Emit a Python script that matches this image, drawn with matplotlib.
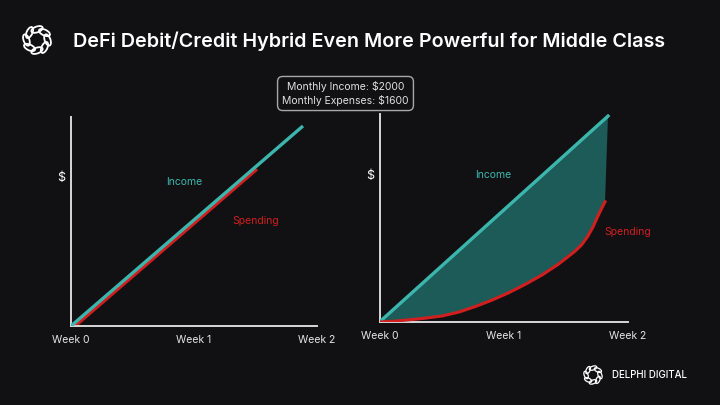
import numpy as np
import matplotlib.pyplot as plt
from matplotlib.patches import Ellipse

BG = "#111113"
TEAL = "#3cb6ad"
FILL = "#1c5b57"
RED = "#d11f1f"
AXIS = "#d8d8d8"

plt.rcParams["font.family"] = ["Inter", "DejaVu Sans"]

# data (x in weeks, y in arbitrary $ units 0..1000)
week_ticks = [0, 1, 2]
week_labels = ["Week 0", "Week 1", "Week 2"]

left_income_x = [0.0, 1.886]
left_income_y = [0, 957]
left_spend_x = [0.033, 1.512]
left_spend_y = [0, 751]

right_income_x = [0.0, 1.839]
right_income_y = [0, 990]
right_spend_x = [0.0, 0.12, 0.229, 0.36, 0.503, 0.64, 0.769, 0.90, 1.034, 1.17,
                 1.308, 1.44, 1.569, 1.625, 1.674, 1.717, 1.755, 1.787, 1.815]
right_spend_y = [0, 4, 10, 18, 29, 48, 74, 104, 139, 180,
                 226, 278, 338, 370, 410, 455, 506, 545, 578]

W, H = 720, 405
fig = plt.figure(figsize=(7.2, 4.05), dpi=100, facecolor=BG)


def px_axes(x0, y_top, x1, y_bot):
    return fig.add_axes([x0 / W, 1 - y_bot / H, (x1 - x0) / W, (y_bot - y_top) / H])


def style(ax):
    ax.set_facecolor("none")
    for s in ["top", "right"]:
        ax.spines[s].set_visible(False)
    for s in ["left", "bottom"]:
        ax.spines[s].set_color(AXIS)
        ax.spines[s].set_linewidth(1.4)
    ax.set_xlim(0, 2)
    ax.set_ylim(0, 1000)
    ax.set_yticks([])
    ax.set_xticks(week_ticks)
    ax.set_xticklabels(week_labels, color="#e6e6e6", fontsize=7.5)
    ax.tick_params(axis="x", length=0, pad=6.5)


def draw_logo(cx, cy, r, lw):
    la = px_axes(cx - r, cy - r, cx + r, cy + r)
    la.set_xlim(-1, 1)
    la.set_ylim(-1, 1)
    la.axis("off")
    for k in range(8):
        a = np.pi / 2 + k * np.pi / 4
        la.add_patch(Ellipse((0.66 * np.cos(a), 0.66 * np.sin(a)), 0.74, 0.36,
                             angle=np.degrees(a) + 90 + 20, fill=False,
                             edgecolor="white", linewidth=lw))


# left panel
ax1 = px_axes(71, 117, 317, 326)
style(ax1)
ax1.plot(left_income_x, left_income_y, color=TEAL, lw=2.4, solid_capstyle="butt", zorder=3)
ax1.plot(left_spend_x, left_spend_y, color=RED, lw=2.4, solid_capstyle="butt", zorder=2)
ax1.text(-0.08, 708, "$", color="white", fontsize=9, ha="center", va="center")
ax1.text(0.919, 689, "Income", color=TEAL, fontsize=7.5, ha="center", va="center")
ax1.text(1.504, 504, "Spending", color=RED, fontsize=7.5, ha="center", va="center")

# right panel
ax2 = px_axes(379.5, 114, 628, 322)
style(ax2)
poly_x = right_income_x + right_spend_x[::-1]
poly_y = right_income_y + right_spend_y[::-1]
ax2.fill(poly_x, poly_y, color=FILL, lw=0, zorder=1)
ax2.plot(right_income_x, right_income_y, color=TEAL, lw=2.4, zorder=3)
ax2.plot(right_spend_x, right_spend_y, color=RED, lw=2.2, zorder=3)
ax2.text(-0.076, 703, "$", color="white", fontsize=9, ha="center", va="center", clip_on=False)
ax2.text(0.916, 707, "Income", color=TEAL, fontsize=7.5, ha="center", va="center")
ax2.text(1.998, 431, "Spending", color=RED, fontsize=7.5, ha="center", va="center")

# title and annotations
fig.text(73 / W, 1 - 41 / H, "DeFi Debit/Credit Hybrid Even More Powerful for Middle Class",
         color="white", fontsize=14.2, fontweight="semibold", ha="left", va="center")
fig.text(345.5 / W, 1 - 93.5 / H, "Monthly Income: $2000\nMonthly Expenses: $1600",
         color="#e0e0e0", fontsize=7.5, ha="center", va="center", linespacing=1.3,
         bbox=dict(boxstyle="round,pad=0.45,rounding_size=0.5", facecolor=BG,
                   edgecolor="#a8a8a8", linewidth=1))

draw_logo(37, 40, 16, 1.3)
draw_logo(593, 375, 10.5, 0.9)
fig.text(612 / W, 1 - 375 / H, "DELPHI DIGITAL", color="white", fontsize=7,
         fontweight="medium", ha="left", va="center")

fig.savefig("out.png", dpi=100, facecolor=BG)
